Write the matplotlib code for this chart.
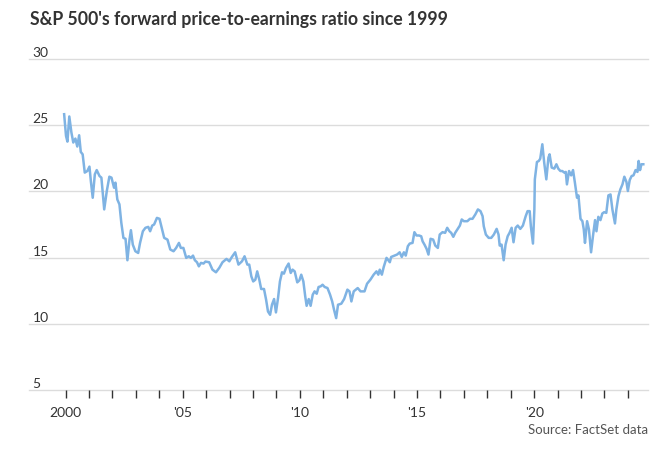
import matplotlib
matplotlib.use("Agg")
import numpy as np
from matplotlib import pyplot as plt
from matplotlib.ticker import FixedLocator, MultipleLocator

# forward P/E (fractional year, ratio)
years = [
    1999.94, 2000.02, 2000.08, 2000.16, 2000.25, 2000.33, 2000.42, 2000.50, 2000.58, 2000.65,
    2000.73, 2000.82, 2000.93, 2001.02, 2001.08, 2001.16, 2001.25, 2001.33, 2001.45, 2001.53,
    2001.65, 2001.76, 2001.87, 2001.96, 2002.07, 2002.13, 2002.21, 2002.30, 2002.38, 2002.47,
    2002.56, 2002.64, 2002.73, 2002.79, 2002.87, 2002.98, 2003.10, 2003.18, 2003.30, 2003.41,
    2003.53, 2003.61, 2003.70, 2003.78, 2003.90, 2004.01, 2004.12, 2004.21, 2004.35, 2004.47,
    2004.61, 2004.72, 2004.84, 2004.92, 2005.03, 2005.15, 2005.26, 2005.35, 2005.44, 2005.52,
    2005.61, 2005.69, 2005.78, 2005.89, 2005.97, 2006.13, 2006.27, 2006.42, 2006.56, 2006.70,
    2006.87, 2006.99, 2007.10, 2007.24, 2007.38, 2007.53, 2007.64, 2007.76, 2007.84, 2007.93,
    2008.01, 2008.10, 2008.18, 2008.27, 2008.35, 2008.47, 2008.56, 2008.64, 2008.73, 2008.81,
    2008.90, 2008.98, 2009.07, 2009.15, 2009.24, 2009.32, 2009.41, 2009.52, 2009.61, 2009.69,
    2009.78, 2009.89, 2009.98, 2010.06, 2010.15, 2010.23, 2010.29, 2010.38, 2010.46, 2010.55,
    2010.63, 2010.72, 2010.80, 2010.89, 2010.97, 2011.06, 2011.18, 2011.29, 2011.38, 2011.46,
    2011.55, 2011.63, 2011.77, 2011.89, 2012.03, 2012.12, 2012.20, 2012.30, 2012.47, 2012.59,
    2012.76, 2012.87, 2013.01, 2013.15, 2013.27, 2013.35, 2013.41, 2013.50, 2013.58, 2013.70,
    2013.84, 2013.90, 2014.04, 2014.15, 2014.26, 2014.35, 2014.44, 2014.52, 2014.61, 2014.69,
    2014.81, 2014.89, 2014.98, 2015.09, 2015.18, 2015.24, 2015.32, 2015.41, 2015.49, 2015.58,
    2015.69, 2015.78, 2015.89, 2015.97, 2016.09, 2016.20, 2016.29, 2016.38, 2016.46, 2016.55,
    2016.63, 2016.74, 2016.83, 2016.91, 2017.00, 2017.15, 2017.26, 2017.37, 2017.49, 2017.60,
    2017.71, 2017.80, 2017.85, 2017.94, 2018.06, 2018.17, 2018.28, 2018.40, 2018.48, 2018.53,
    2018.61, 2018.70, 2018.78, 2018.87, 2018.95, 2019.04, 2019.12, 2019.21, 2019.30, 2019.41,
    2019.52, 2019.64, 2019.72, 2019.81, 2019.86, 2019.95, 2020.01, 2020.03, 2020.12, 2020.20,
    2020.26, 2020.35, 2020.43, 2020.52, 2020.61, 2020.66, 2020.75, 2020.86, 2020.95, 2021.03,
    2021.12, 2021.20, 2021.29, 2021.35, 2021.40, 2021.49, 2021.58, 2021.66, 2021.74, 2021.83,
    2021.89, 2021.98, 2022.06, 2022.12, 2022.17, 2022.26, 2022.34, 2022.43, 2022.51, 2022.60,
    2022.66, 2022.74, 2022.83, 2022.91, 2022.99, 2023.08, 2023.17, 2023.26, 2023.34, 2023.45,
    2023.51, 2023.60, 2023.68, 2023.77, 2023.85, 2023.94, 2024.00, 2024.08, 2024.16, 2024.24,
    2024.33, 2024.41, 2024.46, 2024.52, 2024.58, 2024.66,
]
pe = [
    25.83, 24.19, 23.76, 25.66, 24.45, 23.69, 23.99, 23.39, 24.24, 22.98,
    22.80, 21.42, 21.54, 21.87, 20.78, 19.52, 21.29, 21.61, 21.16, 21.04,
    18.64, 20.02, 21.11, 21.04, 20.28, 20.66, 19.39, 19.02, 17.63, 16.49,
    16.42, 14.80, 16.36, 17.07, 15.98, 15.48, 15.35, 16.11, 16.99, 17.25,
    17.32, 16.99, 17.42, 17.50, 18.00, 17.93, 17.12, 16.49, 16.36, 15.61,
    15.48, 15.73, 16.11, 15.73, 15.73, 14.98, 15.10, 14.98, 15.15, 14.80,
    14.65, 14.34, 14.60, 14.55, 14.70, 14.65, 14.09, 13.89, 14.22, 14.65,
    14.90, 14.72, 15.05, 15.40, 14.47, 14.72, 15.10, 14.47, 14.47, 13.58,
    13.20, 13.33, 13.96, 13.33, 12.63, 12.63, 11.82, 10.93, 10.68, 11.44,
    11.87, 10.86, 11.95, 13.20, 13.89, 13.79, 14.22, 14.55, 13.84, 14.09,
    13.96, 13.13, 13.28, 13.71, 13.20, 12.07, 11.36, 11.87, 11.36, 12.20,
    12.45, 12.27, 12.78, 12.83, 12.95, 12.78, 12.70, 12.20, 11.69, 11.06,
    10.43, 11.44, 11.52, 11.87, 12.58, 12.45, 11.69, 12.45, 12.70, 12.45,
    12.45, 13.03, 13.33, 13.71, 13.96, 13.71, 14.09, 13.71, 14.29, 14.98,
    14.65, 15.05, 15.15, 15.23, 15.40, 15.05, 15.40, 15.15, 15.86, 16.06,
    16.11, 16.92, 16.67, 16.67, 16.61, 16.23, 15.98, 15.66, 15.23, 16.42,
    16.36, 15.91, 15.73, 16.74, 16.92, 16.87, 17.25, 16.99, 16.87, 16.57,
    16.87, 17.17, 17.42, 17.88, 17.75, 17.75, 17.93, 17.93, 18.26, 18.64,
    18.51, 18.13, 17.37, 16.74, 16.49, 16.49, 16.74, 17.17, 16.74, 15.91,
    15.98, 14.80, 15.98, 16.61, 16.87, 17.25, 16.16, 17.25, 17.42, 17.17,
    17.42, 18.13, 18.51, 18.51, 17.37, 16.06, 18.64, 20.91, 22.22, 22.30,
    22.47, 23.56, 22.17, 20.91, 22.55, 22.80, 21.80, 21.72, 22.05, 21.72,
    21.54, 21.54, 21.42, 21.47, 20.53, 21.54, 21.21, 21.61, 20.66, 19.52,
    19.70, 17.93, 17.75, 17.12, 16.11, 17.75, 17.12, 15.40, 16.61, 17.83,
    16.99, 18.08, 17.83, 18.33, 18.43, 18.38, 19.70, 19.77, 18.64, 17.58,
    18.64, 19.65, 20.15, 20.53, 21.11, 20.71, 20.03, 20.86, 21.16, 21.21,
    21.61, 21.47, 22.30, 21.61, 22.05, 22.05,
]

y_ticks = [5, 10, 15, 20, 25, 30]
x_major = [2000, 2005, 2010, 2015, 2020]
x_labels = ["2000", "'05", "'10", "'15", "'20"]

plt.rcParams["font.family"] = ["Lato", "DejaVu Sans"]

W, H = 659, 457
fig = plt.figure(figsize=(W / 100, H / 100), dpi=100)
ax = fig.add_axes([29 / W, (H - 390) / H, (648 - 29) / W, (390 - 59) / H])

ax.plot(years, pe, color="#7fb3e3", lw=1.8, solid_joinstyle="round", zorder=3)

ax.set_ylim(5, 30)
ax.set_xlim(1998.44, 2024.86)

for v in y_ticks:
    ax.axhline(v, color="#dcdcdc", lw=1.0, zorder=1, clip_on=False)
    ax.text(0.006, v, str(v), transform=ax.get_yaxis_transform(),
            ha="left", va="bottom", fontsize=10, color="#333333")

for s in ax.spines.values():
    s.set_visible(False)
ax.set_yticks([])

ax.xaxis.set_major_locator(FixedLocator(x_major))
ax.set_xticklabels(x_labels)
ax.xaxis.set_minor_locator(FixedLocator([y for y in range(2000, 2025) if y not in x_major]))
ax.tick_params(axis="x", which="both", length=6, width=1, color="#333333",
               direction="out", pad=6)
ax.tick_params(axis="x", which="major", labelsize=10, labelcolor="#333333")

fig.text(30 / W, 1 - 20 / H, "S&P 500's forward price-to-earnings ratio since 1999",
         ha="left", va="center", fontsize=12.7, fontweight="bold", color="#333333")
fig.text(648 / W, 1 - 430 / H, "Source: FactSet data", ha="right", va="center",
         fontsize=9.5, color="#555555")

fig.savefig("out.png", dpi=100)
